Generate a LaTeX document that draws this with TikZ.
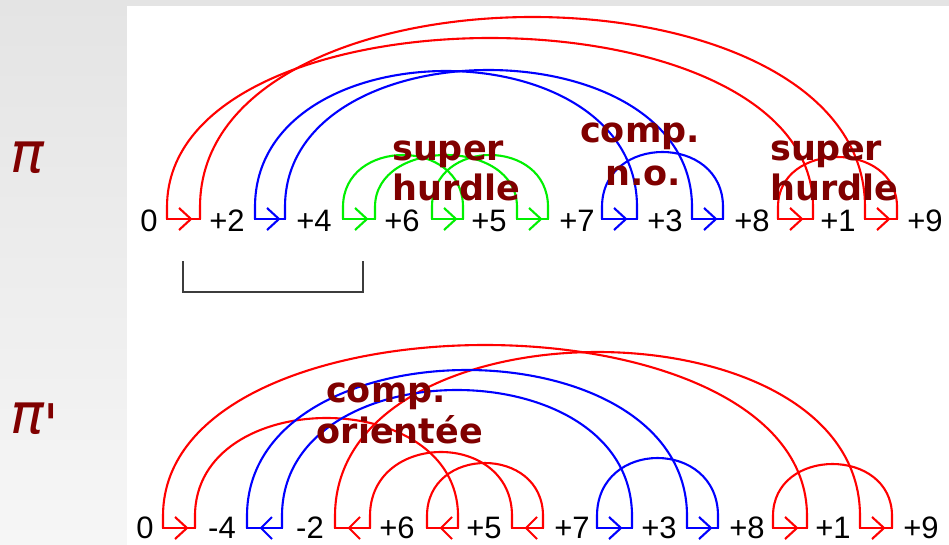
\documentclass[tikz,border=0pt]{standalone}
\usepackage{fontspec}
\setmainfont{Liberation Sans}
\newfontfamily\lblfont{DejaVu Sans}
\newfontfamily\pifont{DejaVu Sans}
\definecolor{lblred}{RGB}{128,0,0}
\definecolor{cred}{RGB}{255,0,0}
\definecolor{cblue}{RGB}{0,0,255}
\definecolor{cgreen}{RGB}{0,240,0}
\definecolor{bgtop}{RGB}{228,228,228}
\definecolor{bgbot}{RGB}{246,246,246}
\definecolor{brk}{RGB}{60,60,60}
\tikzset{
  edgeline/.style={line width=2.1pt},
  num/.style={font=\fontsize{31}{31}\selectfont, text=black, inner sep=0pt, anchor=base},
  note/.style={font=\lblfont\bfseries\fontsize{35}{35}\selectfont, text=lblred, inner sep=0pt},
  piname/.style={font=\pifont\itshape\fontsize{56}{56}\selectfont, text=lblred, inner sep=0pt, anchor=base west},
}
\newcommand\garc[4]{%
  \pgfmathsetmacro\ctrlh{(#4-12)*4/3+12}%
  \draw[edgeline,#1] (#2) -- ([yshift=12pt]#2) .. controls ([yshift=\ctrlh pt]#2) and ([yshift=\ctrlh pt]#3) .. ([yshift=12pt]#3) -- (#3);}
\newcommand\fwdedge[3]{%
  \draw[edgeline,#1,line cap=rect] (#2) -- (#3);
  \draw[edgeline,#1] ([xshift=12pt,yshift=11pt]#2) -- ([xshift=24pt]#2) -- ([xshift=12pt,yshift=-11pt]#2);}
\newcommand\revedge[3]{%
  \draw[edgeline,#1,line cap=rect] (#2) -- (#3);
  \draw[edgeline,#1] ([xshift=25pt,yshift=11pt]#2) -- ([xshift=14pt]#2) -- ([xshift=25pt,yshift=-11pt]#2);}
\begin{document}
\begin{tikzpicture}[x=1pt,y=-1pt]
\useasboundingbox (0,0) rectangle (949,545);
\shade[top color=bgtop, bottom color=bgbot] (0,0) rectangle (949,545);
\fill[white] (127,6) rectangle (949,545);
% ---------- permutation points ----------
\foreach \i/\l/\r in {1/167/200,2/255/285,3/343/375,4/432/463,5/517/548,6/602/637,7/692/723,8/778/813,9/865/897}{
  \coordinate (tL\i) at (\l,219);
  \coordinate (tR\i) at (\r,219);
}
\foreach \i/\l/\r in {1/163/195,2/247/282,3/335/370,4/427/458,5/512/543,6/597/632,7/687/718,8/773/807,9/860/892}{
  \coordinate (bL\i) at (\l,528);
  \coordinate (bR\i) at (\r,528);
}
% ---------- top arcs ----------
\garc{cred}{tL1}{tR8}{181}
\garc{cred}{tR1}{tL9}{202}
\garc{cred}{tL8}{tR9}{62}
\garc{cblue}{tL2}{tR6}{148}
\garc{cblue}{tR2}{tL7}{149}
\garc{cblue}{tL6}{tR7}{67}
\garc{cgreen}{tL3}{tR4}{64}
\garc{cgreen}{tR3}{tL5}{64}
\garc{cgreen}{tL4}{tR5}{64}
% ---------- top black edges ----------
\fwdedge{cred}{tL1}{tR1}
\fwdedge{cblue}{tL2}{tR2}
\fwdedge{cgreen}{tL3}{tR3}
\fwdedge{cgreen}{tL4}{tR4}
\fwdedge{cgreen}{tL5}{tR5}
\fwdedge{cblue}{tL6}{tR6}
\fwdedge{cblue}{tL7}{tR7}
\fwdedge{cred}{tL8}{tR8}
\fwdedge{cred}{tL9}{tR9}
% ---------- bottom arcs ----------
\garc{cred}{bL1}{bR8}{183}
\garc{cred}{bL3}{bL9}{176}
\garc{cred}{bR1}{bR4}{110}
\garc{cred}{bR3}{bL5}{76}
\garc{cred}{bL4}{bR5}{65}
\garc{cred}{bL8}{bR9}{64}
\garc{cblue}{bR2}{bR6}{138}
\garc{cblue}{bL2}{bL7}{158}
\garc{cblue}{bL6}{bR7}{70}
% ---------- bottom black edges ----------
\fwdedge{cred}{bL1}{bR1}
\revedge{cblue}{bL2}{bR2}
\revedge{cred}{bL3}{bR3}
\revedge{cred}{bL4}{bR4}
\revedge{cred}{bL5}{bR5}
\fwdedge{cblue}{bL6}{bR6}
\fwdedge{cblue}{bL7}{bR7}
\fwdedge{cred}{bL8}{bR8}
\fwdedge{cred}{bL9}{bR9}
% ---------- numbers ----------
\foreach \n/\x/\t in {0/149/0,1/227/+2,2/314/+4,3/402/+6,4/489/+5,5/577/+7,6/665/+3,7/752/+8,8/838/+1,9/925/+9}{
  \node[num] (tn\n) at (\x,231) {\t};
}
\foreach \n/\x/\t in {0/145/0,1/222/-4,2/310/-2,3/397/+6,4/484/+5,5/572/+7,6/659/+3,7/747/+8,8/833/+1,9/921/+9}{
  \node[num] (bn\n) at (\x,538) {\t};
}
% ---------- bracket ----------
\draw[brk, line width=1.4pt] (183,261) -- (183,292) -- (363,292) -- (363,261);
% ---------- notes ----------
\node[note, anchor=base west] (sh1a) at (392,161) {super};
\node[note, anchor=base west] (sh1b) at (392,201) {hurdle};
\node[note, anchor=base] (cn1a) at (640,143) {comp.};
\node[note, anchor=base] (cn1b) at (643,186) {n.o.};
\node[note, anchor=base west] (sh2a) at (770,161) {super};
\node[note, anchor=base west] (sh2b) at (770,201) {hurdle};
\node[note, anchor=base] (co1a) at (386,402) {comp.};
\node[note, anchor=base] (co1b) at (400,443) {orientée};
% ---------- pi labels ----------
\node[piname] (pi1) at (10,173) {π};
\node[piname] (pi2) at (10,433) {π\raisebox{-11pt}{'}};
\end{tikzpicture}
\end{document}
